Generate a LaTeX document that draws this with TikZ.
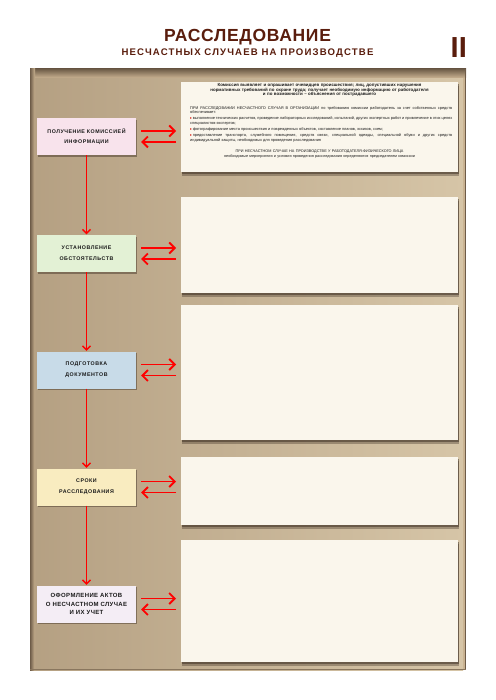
\documentclass[tikz,border=0pt]{standalone}
\usepackage{fontspec}
\setmainfont{Liberation Sans}
\newfontfamily\symf{DejaVu Sans}
\usetikzlibrary{arrows.meta,shadows}
\definecolor{titlebrown}{HTML}{5A1D0D}
\definecolor{paneltan}{HTML}{C9B291}
\definecolor{panellt}{HTML}{D6C5A7}
\definecolor{paneldk}{HTML}{6E5C48}
\definecolor{boxcream}{HTML}{FAF6EC}
\definecolor{lpink}{HTML}{F8E3EC}
\definecolor{lgreen}{HTML}{E3F1D5}
\definecolor{lblue}{HTML}{C8DBE8}
\definecolor{lyellow}{HTML}{F9ECC0}
\definecolor{llav}{HTML}{F4EDF5}
\definecolor{arrowlt}{HTML}{FF0000}
\definecolor{txt}{HTML}{1A1A1A}
\definecolor{bulred}{HTML}{D8261C}
\definecolor{bulgreen}{HTML}{6E9A2E}
\definecolor{bulblue}{HTML}{3C7EC0}
\definecolor{shadowc}{HTML}{3A2C20}
\newcommand\rbul{{\color{bulred}\symf ▸}\,}
\newcommand\gbul{{\color{bulgreen}\symf •}\,}
\newcommand\bbul{{\color{bulblue}\symf ▪}\,}
\newcommand\pin{\hspace*{6pt}}
\tikzset{
  leftbox/.style={minimum width=99pt, minimum height=37pt, inner sep=0pt, align=center, text=txt,
    font={\bfseries\fontsize{5.3}{10.7}\selectfont\addfontfeature{LetterSpace=10}},
    drop shadow={shadow xshift=1.3pt, shadow yshift=-1.8pt, opacity=0.45, fill=shadowc}},
  rbox/.style={fill=boxcream, inner sep=0pt, anchor=north west,
    drop shadow={shadow xshift=0.5pt, shadow yshift=-3.5pt, opacity=0.35, fill=shadowc},
    drop shadow={shadow xshift=0.3pt, shadow yshift=-2pt, opacity=0.5, fill=shadowc}},
  tx/.style={inner sep=0pt, text=txt},
  varrow/.style={draw=arrowlt, line width=1.3pt, -{Straight Barb[length=4pt,width=8pt]}, shorten >=0.5pt},
  harrow/.style={draw=arrowlt, line width=1.8pt, -{Straight Barb[length=5.5pt,width=11pt]}, shorten <=5pt, shorten >=5pt},
}
\begin{document}
\begin{tikzpicture}[x=1pt,y=-1pt]
\useasboundingbox (0,0) rectangle (495,700);
\fill[white] (0,0) rectangle (495,700);
% title
\node[anchor=base, text=titlebrown, inner sep=0pt, font={\bfseries\fontsize{17.5}{17.5}\selectfont\addfontfeature{LetterSpace=4}}] (t1) at (247.5,41.7) {РАССЛЕДОВАНИЕ};
\node[anchor=base, text=titlebrown, inner sep=0pt, font={\bfseries\fontsize{9.6}{9.6}\selectfont\addfontfeature{LetterSpace=12}}] (t2) at (247.5,56) {НЕСЧАСТНЫХ СЛУЧАЕВ НА ПРОИЗВОДСТВЕ};
\node[anchor=base east, text=titlebrown, inner sep=0pt, font={\bfseries\fontsize{29}{29}\selectfont}] (t3) at (467,57.3) {II};
% panel
\fill[paneltan] (30,69) rectangle (466,670);
\shade[left color=paneltan!90!black, middle color=paneltan, right color=panellt] (33,69) rectangle (463,670);
\shade[top color=paneldk, bottom color=paneltan] (30,69) rectangle (466,78);
\shade[left color=paneldk, right color=paneltan] (30,69) rectangle (35,670);
\fill[paneldk] (464.8,69) rectangle (466,670);
\fill[paneldk!70!paneltan] (30,668.8) rectangle (466,670);
% right boxes
\node[rbox, minimum width=277pt, minimum height=90pt] (r1) at (181,82) {};
\node[rbox, minimum width=277pt, minimum height=96pt] (r2) at (181,197) {};
\node[rbox, minimum width=277pt, minimum height=135pt] (r3) at (181,305) {};
\node[rbox, minimum width=277pt, minimum height=68pt] (r4) at (181,457) {};
\node[rbox, minimum width=277pt, minimum height=122pt] (r5) at (181,540) {};
% left boxes
\node[leftbox, fill=lpink] (l1) at (86.5,136.5) {ПОЛУЧЕНИЕ КОМИССИЕЙ\\ИНФОРМАЦИИ};
\node[leftbox, fill=lgreen] (l2) at (86.5,253.5) {УСТАНОВЛЕНИЕ\\ОБСТОЯТЕЛЬСТВ};
\node[leftbox, fill=lblue] (l3) at (86.5,370) {ПОДГОТОВКА\\ДОКУМЕНТОВ};
\node[leftbox, fill=lyellow] (l4) at (86.5,487) {СРОКИ\\РАССЛЕДОВАНИЯ};
\node[leftbox, fill=llav, font={\bfseries\fontsize{6}{8.8}\selectfont\addfontfeature{LetterSpace=6}}] (l5) at (86.5,604) {ОФОРМЛЕНИЕ АКТОВ\\О НЕСЧАСТНОМ СЛУЧАЕ\\И ИХ УЧЕТ};
% vertical arrows
\draw[varrow] (l1) -- (l2);
\draw[varrow] (l2) -- (l3);
\draw[varrow] (l3) -- (l4);
\draw[varrow] (l4) -- (l5);
% horizontal arrows
\coordinate (a1) at ([yshift=5.5pt]l1.east);
\coordinate (b1) at ([yshift=-5.5pt]l1.east);
\coordinate (a2) at ([yshift=5.5pt]l2.east);
\coordinate (b2) at ([yshift=-5.5pt]l2.east);
\coordinate (a3) at ([yshift=5.5pt]l3.east);
\coordinate (b3) at ([yshift=-5.5pt]l3.east);
\coordinate (a4) at ([yshift=5.5pt]l4.east);
\coordinate (b4) at ([yshift=-5.5pt]l4.east);
\coordinate (a5) at ([yshift=5.5pt]l5.east);
\coordinate (b5) at ([yshift=-5.5pt]l5.east);
\draw[harrow] (a1) -- (a1 -| r1.west);
\draw[harrow] (b1 -| r1.west) -- (b1);
\draw[harrow] (a2) -- (a2 -| r2.west);
\draw[harrow] (b2 -| r2.west) -- (b2);
\draw[harrow] (a3) -- (a3 -| r3.west);
\draw[harrow] (b3 -| r3.west) -- (b3);
\draw[harrow] (a4) -- (a4 -| r4.west);
\draw[harrow] (b4 -| r4.west) -- (b4);
\draw[harrow] (a5) -- (a5 -| r5.west);
\draw[harrow] (b5 -| r5.west) -- (b5);
% ---------- box 1 text
\node[tx, anchor=north, text width=270pt, align=center, font={\bfseries\fontsize{4.4}{4.6}\selectfont}] (r1t) at (319.5,83.4)
{Комиссия выявляет и опрашивает очевидцев происшествия; лиц, допустивших нарушения\\нормативных требований по охране труда; получает необходимую информацию от работодателя\\и по возможности – объяснения от пострадавшего};
\node[tx, anchor=north west, text width=262pt, align=justify, font={\fontsize{3.9}{4.4}\selectfont}] (r1b) at (190,106.3)
{\setlength\parskip{1.8pt}ПРИ РАССЛЕДОВАНИИ НЕСЧАСТНОГО СЛУЧАЯ В ОРГАНИЗАЦИИ по требованию комиссии работодатель за счет собственных средств обеспечивает:\par
\rbul выполнение технических расчетов, проведение лабораторных исследований, испытаний, других экспертных работ и привлечение в этих целях специалистов-экспертов;\par
\rbul фотографирование места происшествия и поврежденных объектов, составление планов, эскизов, схем;\par
\rbul предоставление транспорта, служебного помещения, средств связи, специальной одежды, специальной обуви и других средств индивидуальной защиты, необходимых для проведения расследования};
\node[tx, anchor=north, text width=270pt, align=center, font={\fontsize{3.8}{4.9}\selectfont}] (r1c) at (319.5,149.3)
{ПРИ НЕСЧАСТНОМ СЛУЧАЕ НА ПРОИЗВОДСТВЕ У РАБОТОДАТЕЛЯ-ФИЗИЧЕСКОГО ЛИЦА\\необходимые мероприятия и условия проведения расследования определяются председателем комиссии};
\end{tikzpicture}
\end{document}
